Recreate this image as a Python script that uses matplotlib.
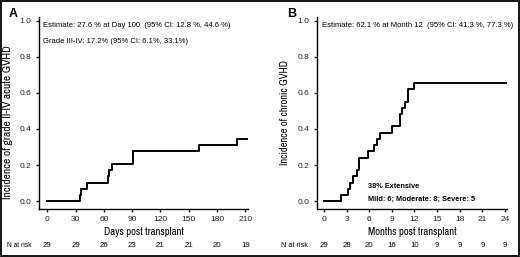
import matplotlib
matplotlib.use("Agg")
import matplotlib.pyplot as plt
import matplotlib.transforms as mtrans
from matplotlib.patches import Rectangle

plt.rcParams['font.family'] = ['Liberation Sans', 'DejaVu Sans']
narrow = ['Archivo Narrow', 'Liberation Sans', 'DejaVu Sans']

# Panel A: acute GVHD (days)
a_days = [0, 35, 36, 42, 64, 66, 69, 91, 161, 201, 212.5]
a_inc = [0.0, 0.034, 0.069, 0.103, 0.138, 0.172, 0.207, 0.276, 0.310, 0.345, 0.345]
a_ticks = [0, 30, 60, 90, 120, 150, 180, 210]
a_risk = [29, 29, 26, 23, 21, 21, 20, 19]

# Panel B: chronic GVHD (months)
b_months = [0, 2.25, 3.23, 3.45, 3.8, 4.33, 4.69, 5.88, 6.63, 7.03, 7.43,
            9.07, 10.08, 10.4, 10.8, 11.14, 11.94, 24.3]
b_inc = [0.0, 0.034, 0.069, 0.103, 0.138, 0.172, 0.241, 0.276, 0.310, 0.345, 0.379,
         0.414, 0.483, 0.517, 0.552, 0.621, 0.655, 0.655]
b_ticks = [0, 3, 6, 9, 12, 15, 18, 21, 24]
b_risk = [29, 28, 20, 16, 10, 9, 9, 9, 9]

fig = plt.figure(figsize=(5.2, 2.57), dpi=100)
axA = fig.add_axes([0.0756, 0.1887, 0.4013, 0.7455])
axB = fig.add_axes([0.609, 0.1887, 0.3665, 0.7455])


def style(ax, xlim, ticks, xlabel, ylabel, ysize):
    ax.set_xlim(*xlim)
    ax.set_ylim(-0.04, 1.02)
    ax.spines['top'].set_visible(False)
    ax.spines['right'].set_visible(False)
    for s in ('left', 'bottom'):
        ax.spines[s].set_linewidth(1.0)
    ax.set_xticks(ticks)
    ax.set_yticks([0.0, 0.2, 0.4, 0.6, 0.8, 1.0])
    ax.set_yticklabels(['0.0', '0.2', '0.4', '0.6', '0.8', '1.0'])
    ax.tick_params(length=2.5, width=1.0, labelsize=6, pad=3, colors='#222222')
    ax.set_xlabel(xlabel, family=narrow, fontsize=7.7, labelpad=2.5)
    ax.set_ylabel(ylabel, family=narrow, fontsize=ysize, labelpad=5)


axA.step(a_days, a_inc, where='post', color='black', lw=1.4)
style(axA, (-8.4, 212.8), a_ticks, 'Days post transplant',
      'Incidence of grade II-IV acute GVHD', 8.3)
axA.yaxis.set_label_coords(-0.125, 0.45)
axA.text(0.02, 0.955, 'Estimate: 27.6 % at Day 100  (95% CI: 12.8 %, 44.6 %)',
         transform=axA.transAxes, fontsize=5.5, va='center')
axA.text(0.02, 0.87, 'Grade III-IV: 17.2% (95% CI: 6.1%, 33.1%)',
         transform=axA.transAxes, fontsize=5.5, va='center')

axB.step(b_months, b_inc, where='post', color='black', lw=1.4)
style(axB, (-0.97, 24.3), b_ticks, 'Months post transplant',
      'Incidence of chronic GVHD', 7.6)
axB.text(0.03, 0.955, 'Estimate: 62.1 % at Month 12  (95% CI: 41.3 %, 77.3 %)',
         transform=axB.transAxes, fontsize=5.5, va='center')
axB.text(5.9, 0.08, '38% Extensive', fontsize=5.3, fontweight='bold', va='center')
axB.text(5.9, 0.013, 'Mild: 6; Moderate: 8; Severe: 5', fontsize=5.3,
         fontweight='bold', va='center')

# panel letters
fig.text(0.016, 0.945, 'A', fontsize=9, fontweight='bold', va='center')
fig.text(0.552, 0.945, 'B', fontsize=9, fontweight='bold', va='center')

# numbers at risk
y_risk = 1 - 245.7 / 257
trA = mtrans.blended_transform_factory(axA.transData, fig.transFigure)
for t, n in zip(a_ticks, a_risk):
    fig.text(t, y_risk, str(n), transform=trA, fontsize=5.6, ha='center', va='center')
fig.text(0.013, y_risk, 'N at risk', fontsize=4.8, va='center')
trB = mtrans.blended_transform_factory(axB.transData, fig.transFigure)
for t, n in zip(b_ticks, b_risk):
    fig.text(t, y_risk, str(n), transform=trB, fontsize=5.6, ha='center', va='center')
fig.text(0.54, y_risk, 'N at risk', fontsize=5.3, va='center')

# outer frame
fig.patches.append(Rectangle((0.002, 0.004), 0.996, 0.992, transform=fig.transFigure,
                             fill=False, edgecolor='black', lw=1.3))

fig.savefig('out.png', dpi=100)
